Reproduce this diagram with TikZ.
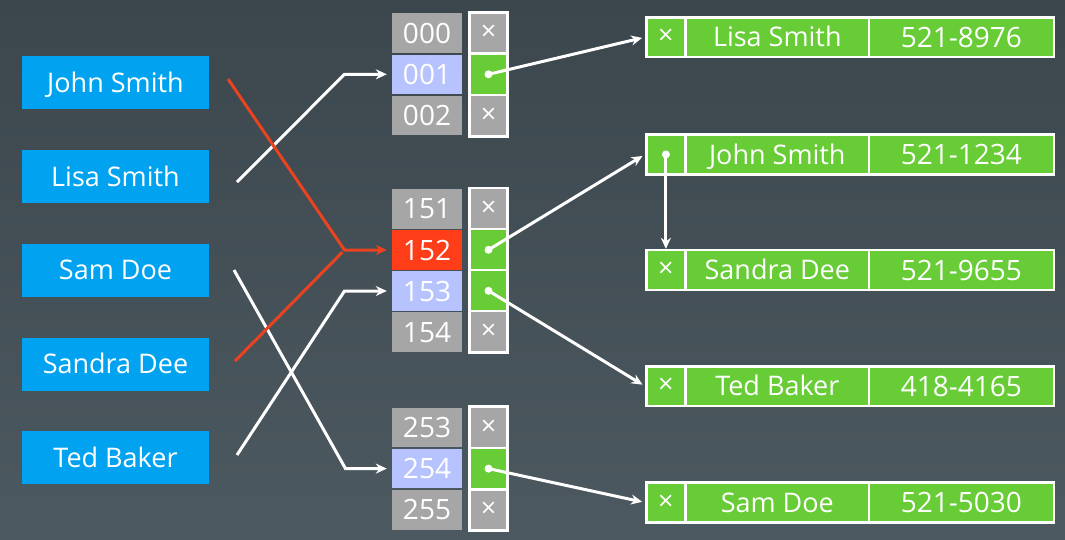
\documentclass[tikz,border=0pt]{standalone}
\usepackage{fontspec}
\setmainfont{Open Sans}
\usetikzlibrary{arrows.meta}
\newlength{\du}
\setlength{\du}{10\unitlength}
\definecolor{bgtop}{rgb}{0.231373, 0.274510, 0.301961}
\definecolor{bgbottom}{rgb}{0.301961, 0.349020, 0.376471}
\definecolor{keyblue}{rgb}{0.003922, 0.639216, 0.941176}
\definecolor{slotgray}{rgb}{0.650980, 0.650980, 0.650980}
\definecolor{slotblue}{rgb}{0.717647, 0.764706, 1.000000}
\definecolor{slotred}{rgb}{1.000000, 0.243137, 0.098039}
\definecolor{entrygreen}{rgb}{0.403922, 0.800000, 0.207843}
\definecolor{hitred}{rgb}{0.917647, 0.262745, 0.125490}
\tikzset{
  keybox/.style={rectangle, fill=keyblue, text=white, inner sep=0pt,
    minimum width=18.7\du, minimum height=5.3\du,
    text height=1.93\du, text depth=0pt, font=\fontsize{27}{30}\selectfont},
  slotbox/.style={rectangle, fill=slotgray, text=white, inner sep=0pt,
    minimum width=7.0\du, minimum height=3.95\du,
    text height=2.0\du, text depth=0pt, font=\fontsize{28}{30}\selectfont},
  ptrbox/.style={rectangle, fill=slotgray, draw=white, line width=0.25\du,
    minimum width=3.8\du, minimum height=4.13\du, inner sep=0pt,
    text=white, font=\fontsize{27}{30}\selectfont},
  cellbox/.style={rectangle, fill=entrygreen, draw=white, line width=0.25\du,
    minimum height=3.98\du, inner sep=0pt, text=white,
    font=\fontsize{27}{30}\selectfont},
  fieldbox/.style={cellbox, text height=1.93\du, text depth=0pt,
    font=\fontsize{27}{30}\selectfont},
  telbox/.style={cellbox, text height=2.0\du, text depth=0pt,
    font=\fontsize{28}{30}\selectfont},
  ptrdot/.style={circle, fill=white, inner sep=0pt, minimum size=0.8\du},
  linkline/.style={draw=white, line width=0.3\du,
    -{Stealth[length=11pt,width=10pt]}, shorten >=0.3\du},
  hitline/.style={linkline, draw=hitred}
}
\begin{document}
\begin{tikzpicture}
\pgftransformxscale{1.000000}
\pgftransformyscale{-1.000000}
% background
\shade[top color=bgtop, bottom color=bgbottom] (0\du,0\du) rectangle (106.5\du,53.9\du);
\useasboundingbox (0\du,0\du) rectangle (106.5\du,53.9\du);
% keys
\node[keybox] (key-js) at (11.55\du,8.25\du){John Smith};
\node[keybox] (key-ls) at (11.55\du,17.65\du){Lisa Smith};
\node[keybox] (key-sd) at (11.55\du,27.00\du){Sam Doe};
\node[keybox] (key-sa) at (11.55\du,36.40\du){Sandra Dee};
\node[keybox] (key-tb) at (11.55\du,45.75\du){Ted Baker};
% buckets 000-002
\node[slotbox] (slot000) at (42.70\du,3.30\du){000};
\node[slotbox, fill=slotblue] (slot001) at (42.70\du,7.43\du){001};
\node[slotbox] (slot002) at (42.70\du,11.56\du){002};
\node[ptrbox] (ptr000) at (48.85\du,3.30\du){×};
\node[ptrbox, fill=entrygreen] (ptr001) at (48.85\du,7.43\du){};
\node[ptrbox] (ptr002) at (48.85\du,11.56\du){×};
% buckets 151-154
\node[slotbox] (slot151) at (42.70\du,20.88\du){151};
\node[slotbox, fill=slotred] (slot152) at (42.70\du,25.00\du){152};
\node[slotbox, fill=slotblue] (slot153) at (42.70\du,29.10\du){153};
\node[slotbox] (slot154) at (42.70\du,33.20\du){154};
\node[ptrbox] (ptr151) at (48.85\du,20.88\du){×};
\node[ptrbox, fill=entrygreen] (ptr152) at (48.85\du,24.98\du){};
\node[ptrbox, fill=entrygreen] (ptr153) at (48.85\du,29.08\du){};
\node[ptrbox] (ptr154) at (48.85\du,33.18\du){×};
% buckets 253-255
\node[slotbox] (slot253) at (42.70\du,42.73\du){253};
\node[slotbox, fill=slotblue] (slot254) at (42.70\du,46.86\du){254};
\node[slotbox] (slot255) at (42.70\du,50.99\du){255};
\node[ptrbox] (ptr253) at (48.85\du,42.73\du){×};
\node[ptrbox, fill=entrygreen] (ptr254) at (48.85\du,46.86\du){};
\node[ptrbox] (ptr255) at (48.85\du,50.99\du){×};
% entries
\node[cellbox, minimum width=3.925\du] (flag-ls) at (66.59\du,3.72\du){×};
\node[fieldbox, minimum width=18.35\du] (name-ls) at (77.73\du,3.72\du){Lisa Smith};
\node[telbox, minimum width=18.475\du] (tel-ls) at (96.14\du,3.72\du){521-8976};
\node[cellbox, minimum width=3.925\du] (flag-js) at (66.59\du,15.44\du){};
\node[fieldbox, minimum width=18.35\du] (name-js) at (77.73\du,15.44\du){John Smith};
\node[telbox, minimum width=18.475\du] (tel-js) at (96.14\du,15.44\du){521-1234};
\node[cellbox, minimum width=3.925\du] (flag-sa) at (66.59\du,27.00\du){×};
\node[fieldbox, minimum width=18.35\du] (name-sa) at (77.73\du,27.00\du){Sandra Dee};
\node[telbox, minimum width=18.475\du] (tel-sa) at (96.14\du,27.00\du){521-9655};
\node[cellbox, minimum width=3.925\du] (flag-tb) at (66.59\du,38.62\du){×};
\node[fieldbox, minimum width=18.35\du] (name-tb) at (77.73\du,38.62\du){Ted Baker};
\node[telbox, minimum width=18.475\du] (tel-tb) at (96.14\du,38.62\du){418-4165};
\node[cellbox, minimum width=3.925\du] (flag-sd) at (66.59\du,50.25\du){×};
\node[fieldbox, minimum width=18.35\du] (name-sd) at (77.73\du,50.25\du){Sam Doe};
\node[telbox, minimum width=18.475\du] (tel-sd) at (96.14\du,50.25\du){521-5030};
% pointer dots
\node[ptrdot] (dot001) at (ptr001.center){};
\node[ptrdot] (dot152) at (ptr152.center){};
\node[ptrdot] (dot153) at (ptr153.center){};
\node[ptrdot] (dot254) at (ptr254.center){};
\node[ptrdot] (dot-js) at (flag-js.center){};
% hash function
\coordinate (js-out) at (22.80\du,7.90\du);
\coordinate (ls-out) at (23.70\du,18.20\du);
\coordinate (sd-out) at (23.40\du,27.00\du);
\coordinate (sa-out) at (23.50\du,36.10\du);
\coordinate (tb-out) at (23.70\du,45.50\du);
\coordinate (bend001) at (34.45\du,7.43\du);
\coordinate (bend152) at (34.45\du,25.00\du);
\coordinate (bend153) at (34.45\du,29.10\du);
\coordinate (bend254) at (34.55\du,46.86\du);
\draw[linkline, shorten >=0.5\du] (ls-out) -- (bend001) -- (slot001);
\draw[linkline, shorten >=0.5\du] (sd-out) -- (bend254) -- (slot254);
\draw[linkline, shorten >=0.5\du] (tb-out) -- (bend153) -- (slot153);
\draw[hitline, -] (sa-out) -- (bend152);
\draw[hitline, shorten >=0.5\du] (js-out) -- (bend152) -- (slot152);
% chains
\draw[linkline] (dot001.center) -- (flag-ls.west);
\draw[linkline] (dot152.center) -- (flag-js.west);
\draw[linkline] (dot153.center) -- (flag-tb.west);
\draw[linkline] (dot254.center) -- (flag-sd.west);
\draw[linkline, shorten >=0pt] (dot-js.center) -- (flag-sa.north);
\end{tikzpicture}
\end{document}
